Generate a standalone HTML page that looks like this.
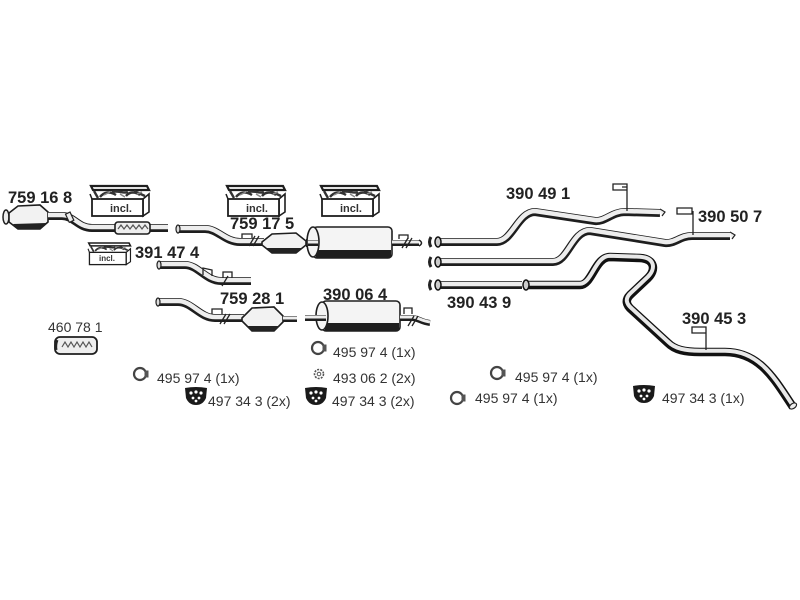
<!DOCTYPE html>
<html><head><meta charset="utf-8"><style>
html,body{margin:0;padding:0;background:#fff;}
svg{display:block;}
.o{fill:none;stroke:#1e1e1e;stroke-width:8;stroke-linecap:butt;stroke-linejoin:round;}
.i{fill:none;stroke:#ededed;stroke-width:4.5;stroke-linecap:butt;stroke-linejoin:round;}
.ot{fill:none;stroke:#111;stroke-width:8.5;stroke-linejoin:round;}
.it{fill:none;stroke:#e8e8e8;stroke-width:4;stroke-linejoin:round;}
.lb{font-family:"Liberation Sans",sans-serif;font-weight:bold;font-size:16.5px;fill:#222;}
.sm{font-family:"Liberation Sans",sans-serif;font-size:14px;fill:#333;}
.hg{fill:none;stroke:#222;stroke-width:1.3;}
</style></head><body>
<svg width="800" height="600" viewBox="0 0 800 600" xmlns="http://www.w3.org/2000/svg">
<defs>
<g id="box">
  <polygon points="1,0 57,0 59,4 3,4" fill="#fff" stroke="#1e1e1e" stroke-width="2.2"/>
  <path d="M4,5 L8,12 M10,11 C14,6 20,5 26,9 M22,6 C28,4 34,8 38,6 M36,10 C40,5 46,6 50,9 M44,5 L55,10" stroke="#333" stroke-width="2.4" fill="none"/>
  <path d="M14,9 L20,6 M30,8 L35,11 M47,8 L52,6" stroke="#888" stroke-width="1.5" fill="none"/>
  <polygon points="53,13 59,8 59,26 53,30" fill="#fff" stroke="#1e1e1e" stroke-width="1.6"/>
  <rect x="2" y="13" width="51" height="17" fill="#fff" stroke="#1e1e1e" stroke-width="1.8"/>
  <line x1="2" y1="13" x2="0" y2="8" stroke="#1e1e1e" stroke-width="1.5"/>
</g>
<g id="ring">
  <circle cx="0" cy="0" r="6" fill="#fff" stroke="#444" stroke-width="2.2"/>
  <rect x="4.5" y="-3.5" width="4" height="7" fill="#555"/>
</g>
<g id="shield">
  <path d="M-11,-8 Q0,-10 11,-8 L10,2 Q7,9 0,9 Q-7,9 -10,2 Z" fill="#1a1a1a"/>
  <circle cx="-5" cy="-3" r="1.6" fill="#fff"/><circle cx="0" cy="-4" r="1.6" fill="#fff"/><circle cx="5" cy="-3" r="1.6" fill="#fff"/>
  <circle cx="-3" cy="2" r="1.4" fill="#fff"/><circle cx="3" cy="2" r="1.4" fill="#fff"/><circle cx="0" cy="5" r="1.4" fill="#fff"/>
</g>
</defs>

<!-- Part 759 16 8 -->
<ellipse cx="6" cy="217" rx="3" ry="7" fill="#eee" stroke="#222" stroke-width="1.5"/>
<polygon points="9,213 18,206 40,205 48,212 48,222 40,229 18,229 9,222" fill="#f2f2f2" stroke="#1e1e1e" stroke-width="1.6"/>
<path d="M13,224 L18,229 L40,229 L46,223 Z" fill="#222"/>
<path d="M48,216 L62,216 C74,216 78,228 92,228 L168,228" class="o"/>
<path d="M48,216 L62,216 C74,216 78,228 92,228 L168,228" class="i" transform="translate(0,-1)"/>
<rect x="67" y="213" width="5" height="9" fill="#eee" stroke="#222" stroke-width="1.2" transform="rotate(-25 69 217)"/>
<rect x="115" y="222" width="35" height="12" rx="3" fill="#eee" stroke="#1e1e1e" stroke-width="1.6"/>
<path d="M118,229 l3,-4 l3,4 l3,-4 l3,4 l3,-4 l3,4 l3,-4 l3,4 l3,-4 l3,4" fill="none" stroke="#555" stroke-width="1.2"/>

<!-- incl boxes -->
<use href="#box" x="90" y="186"/>
<text x="121" y="212" text-anchor="middle" style="font-family:'Liberation Sans',sans-serif;font-weight:bold;font-size:11px;fill:#333">incl.</text>
<use href="#box" transform="translate(88,243) scale(0.72)"/>
<text x="107" y="261" text-anchor="middle" style="font-family:'Liberation Sans',sans-serif;font-weight:bold;font-size:8px;fill:#333">incl.</text>
<use href="#box" x="226" y="186"/>
<text x="257" y="212" text-anchor="middle" style="font-family:'Liberation Sans',sans-serif;font-weight:bold;font-size:11px;fill:#333">incl.</text>
<use href="#box" x="320" y="186"/>
<text x="351" y="212" text-anchor="middle" style="font-family:'Liberation Sans',sans-serif;font-weight:bold;font-size:11px;fill:#333">incl.</text>

<!-- Part 759 17 5 -->
<path d="M177,229 L205,229 C218,229 225,242 240,242 L264,242" class="o"/>
<path d="M177,229 L205,229 C218,229 225,242 240,242 L264,242" class="i" transform="translate(0,-1)"/>
<ellipse cx="178" cy="229" rx="2" ry="4" fill="#ddd" stroke="#222" stroke-width="1.2"/>
<path d="M242,238 L242,234 L252,234 L252,238 M249,246 L255,236 M253,246 L259,236" class="hg"/>
<polygon points="262,242 272,234 296,233 306,241 306,245 296,253 272,253 262,245" fill="#f2f2f2" stroke="#1e1e1e" stroke-width="1.6"/>
<path d="M266,248 L272,253 L296,253 L303,248 Z" fill="#222"/>
<path d="M306,243 L316,243" class="o"/>
<rect x="313" y="227" width="79" height="31" rx="4" fill="#f4f4f4" stroke="#1e1e1e" stroke-width="1.6"/>
<rect x="316" y="250" width="75" height="7.5" fill="#1e1e1e"/>
<ellipse cx="313" cy="242" rx="6" ry="15" fill="#f4f4f4" stroke="#1e1e1e" stroke-width="1.6"/>
<path d="M308,243 L318,243" class="o" style="stroke-width:6"/>
<path d="M308,243 L318,243" class="i" transform="translate(0,-1)" style="stroke-width:3"/>
<path d="M392,243 L419,243" class="o" style="stroke-width:6"/>
<path d="M392,243 L419,243" class="i" transform="translate(0,-1)" style="stroke-width:3"/>
<path d="M419,240 Q424,243 419,246" fill="none" stroke="#222" stroke-width="1.5"/>
<path d="M399,239 L399,235 L408,235 L408,239 M402,248 L408,238 M406,248 L412,238" class="hg"/>

<!-- Part 391 47 4 -->
<path d="M158,265 L185,265 C198,265 206,281 221,281 L251,281" class="o"/>
<path d="M158,265 L185,265 C198,265 206,281 221,281 L251,281" class="i" transform="translate(0,-1)"/>
<ellipse cx="159" cy="265" rx="2" ry="4" fill="#ddd" stroke="#222" stroke-width="1.2"/>
<path d="M203,275 L203,268 L212,270 L212,276 M223,278 L223,272 L232,272 L232,278 M222,286 L228,276" class="hg"/>

<!-- Part 759 28 1 -->
<path d="M157,302 L178,302 C192,302 200,318 215,318 L244,318" class="o"/>
<path d="M157,302 L178,302 C192,302 200,318 215,318 L244,318" class="i" transform="translate(0,-1)"/>
<ellipse cx="158" cy="302" rx="2" ry="4" fill="#ddd" stroke="#222" stroke-width="1.2"/>
<path d="M212,314 L212,309 L222,309 L222,314 M220,324 L226,314 M224,324 L230,314" class="hg"/>
<polygon points="242,318 252,308 274,307 283,316 283,322 274,331 252,331 242,321" fill="#f2f2f2" stroke="#1e1e1e" stroke-width="1.6"/>
<path d="M246,326 L252,331 L274,331 L280,326 Z" fill="#222"/>
<path d="M283,319 L297,319" class="o" style="stroke-width:6"/>
<path d="M283,319 L297,319" class="i" transform="translate(0,-1)" style="stroke-width:3"/>

<!-- Part 390 06 4 -->
<rect x="322" y="301" width="78" height="30" rx="4" fill="#f4f4f4" stroke="#1e1e1e" stroke-width="1.6"/>
<rect x="325" y="323" width="74" height="7.5" fill="#1e1e1e"/>
<ellipse cx="322" cy="316" rx="6" ry="14" fill="#f4f4f4" stroke="#1e1e1e" stroke-width="1.6"/>
<path d="M305,318 L326,318" class="o" style="stroke-width:6"/>
<path d="M305,318 L326,318" class="i" transform="translate(0,-1)" style="stroke-width:3"/>
<path d="M400,318 L412,318 C418,318 421,322 430,323" class="o" style="stroke-width:6"/>
<path d="M400,318 L412,318 C418,318 421,322 430,323" class="i" transform="translate(0,-1)" style="stroke-width:3"/>
<path d="M404,314 L404,308 L412,308 L412,314 M408,326 L414,316 M412,326 L418,316" class="hg"/>

<!-- Part 460 78 1 -->
<rect x="55" y="337" width="42" height="17" rx="5" fill="#eee" stroke="#1e1e1e" stroke-width="1.8"/>
<path d="M56,350 Q55,345 57,340" stroke="#222" stroke-width="3" fill="none"/>
<path d="M62,347 l3,-5 l3,5 l3,-5 l3,5 l3,-5 l3,5 l3,-5 l3,5 l3,-5 l3,5" fill="none" stroke="#555" stroke-width="1.2"/>

<!-- Right pipes -->
<path d="M437,242 L497,242 C512,242 518,212 535,212 L595,221 C605,222 612,212 625,212 L660,213" class="o"/>
<path d="M437,242 L497,242 C512,242 518,212 535,212 L595,221 C605,222 612,212 625,212 L660,213" class="i" transform="translate(0,-1)"/>
<path d="M660,209 L665,212 L662,216" fill="#eee" stroke="#222" stroke-width="1.2"/>
<path d="M627,211 L627,187 L622,187 M613,184 L627,184 L627,190 L613,190 Z" class="hg" fill="#fff"/>

<path d="M437,262 L553,262 C568,262 572,231 590,231 L665,243 C675,244 680,236 692,236 L730,236" class="o"/>
<path d="M437,262 L553,262 C568,262 572,231 590,231 L665,243 C675,244 680,236 692,236 L730,236" class="i" transform="translate(0,-1)"/>
<path d="M730,232 L735,235 L732,239" fill="#eee" stroke="#222" stroke-width="1.2"/>
<path d="M693,235 L693,211 M677,208 L692,208 L692,214 L677,214 Z" class="hg" fill="#fff"/>

<path d="M437,285 L522,285" class="o"/>
<path d="M437,285 L522,285" class="i" transform="translate(0,-1)"/>

<path d="M525,285 L580,285 C592,285 595,257 610,257 L640,258 C655,259 656,270 648,278 L630,295 C625,300 626,305 632,310 L668,343 C675,350 685,352 700,352 L725,352 C760,352 775,380 793,407" class="ot"/>
<path d="M525,285 L580,285 C592,285 595,257 610,257 L640,258 C655,259 656,270 648,278 L630,295 C625,300 626,305 632,310 L668,343 C675,350 685,352 700,352 L725,352 C760,352 775,380 793,407" class="it" transform="translate(0,-1.3)"/>
<ellipse cx="793" cy="406" rx="4" ry="2.5" fill="#eee" stroke="#222" stroke-width="1.2" transform="rotate(-35 793 406)"/>
<path d="M706,350 L706,330 M692,327 L706,327 L706,333 L692,333 Z" class="hg" fill="#fff"/>

<!-- flared ends -->
<ellipse cx="438" cy="242" rx="3" ry="5" fill="#ccc" stroke="#111" stroke-width="1.5"/>
<ellipse cx="438" cy="262" rx="3" ry="5" fill="#ccc" stroke="#111" stroke-width="1.5"/>
<ellipse cx="438" cy="285" rx="3" ry="5" fill="#ccc" stroke="#111" stroke-width="1.5"/>
<ellipse cx="526" cy="285" rx="3" ry="5" fill="#ccc" stroke="#111" stroke-width="1.5"/>
<path d="M431,237 Q428,242 431,247 M431,257 Q428,262 431,267 M431,280 Q428,285 431,290" stroke="#222" stroke-width="3" fill="none"/>

<!-- Labels -->
<text class="lb" x="8" y="203">759 16 8</text>
<text class="lb" x="230" y="229">759 17 5</text>
<text class="lb" x="135" y="258">391 47 4</text>
<text class="lb" x="220" y="304">759 28 1</text>
<text class="lb" x="323" y="300">390 06 4</text>
<text class="lb" x="506" y="199">390 49 1</text>
<text class="lb" x="698" y="222">390 50 7</text>
<text class="lb" x="447" y="308">390 43 9</text>
<text class="lb" x="682" y="324">390 45 3</text>
<text class="sm" x="48" y="332">460 78 1</text>

<!-- Accessory icons and labels -->
<use href="#ring" x="140" y="374"/>
<text class="sm" x="157" y="383">495 97 4 (1x)</text>
<use href="#shield" x="196" y="396"/>
<text class="sm" x="208" y="406">497 34 3 (2x)</text>
<use href="#ring" x="318" y="348"/>
<text class="sm" x="333" y="357">495 97 4 (1x)</text>
<circle cx="319" cy="374" r="4.5" fill="#fff" stroke="#555" stroke-width="1.6" stroke-dasharray="2 1.2"/>
<circle cx="319" cy="374" r="1.8" fill="none" stroke="#555" stroke-width="1"/>
<text class="sm" x="333" y="383">493 06 2 (2x)</text>
<use href="#shield" x="316" y="396"/>
<text class="sm" x="332" y="406">497 34 3 (2x)</text>
<use href="#ring" x="497" y="373"/>
<text class="sm" x="515" y="382">495 97 4 (1x)</text>
<use href="#ring" x="457" y="398"/>
<text class="sm" x="475" y="403">495 97 4 (1x)</text>
<use href="#shield" x="644" y="394"/>
<text class="sm" x="662" y="403">497 34 3 (1x)</text>
</svg>
</body></html>
